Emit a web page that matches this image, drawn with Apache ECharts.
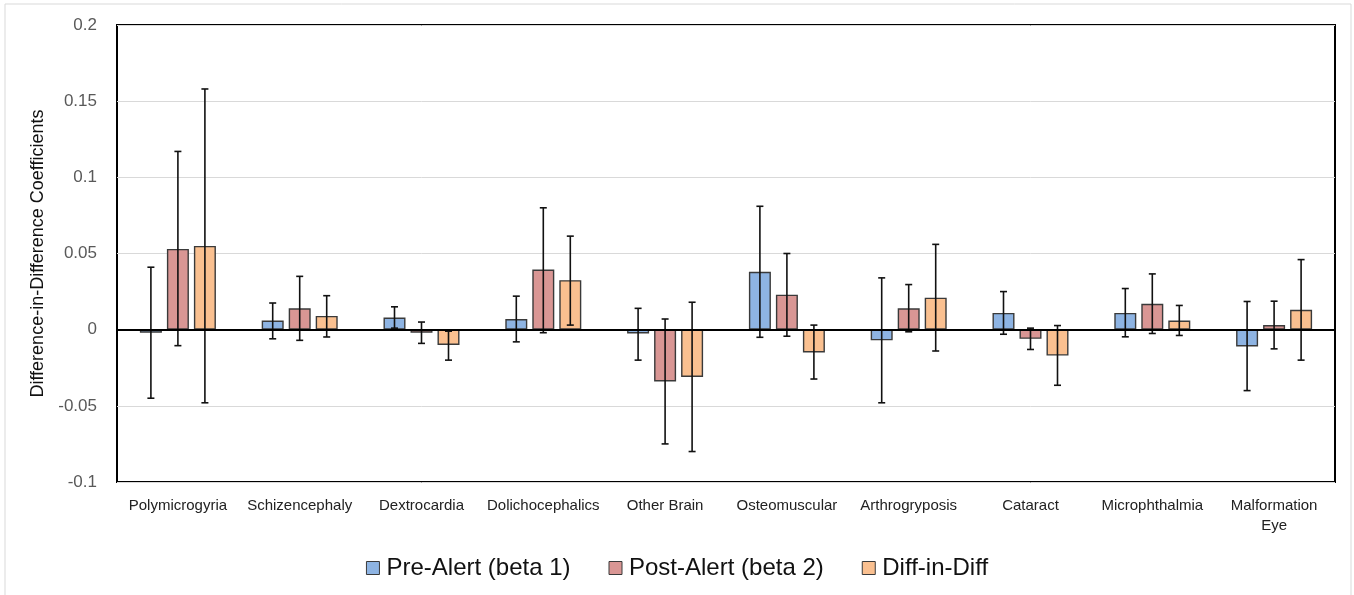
<!DOCTYPE html>
<html>
<head>
<meta charset="utf-8">
<script src="https://cdn.jsdelivr.net/npm/echarts@6/dist/echarts.min.js"></script>
<style>
html,body{margin:0;padding:0;background:#fff;}
#chart{width:1354px;height:595px;}
</style>
</head>
<body>
<div id="chart"></div>
<script>
const categories = ['Polymicrogyria','Schizencephaly','Dextrocardia','Dolichocephalics','Other Brain','Osteomuscular','Arthrogryposis','Cataract','Microphthalmia','Malformation Eye'];
const seriesNames = ['Pre-Alert (beta 1)','Post-Alert (beta 2)','Diff-in-Diff'];
const yTicks = [-0.1, 0.2, 0.05];

const pre     = [-0.002, 0.006, 0.008, 0.007, -0.0025, 0.038, -0.007, 0.011, 0.011, -0.011];
const preLow  = [-0.045, -0.006, 0.001, -0.008, -0.020, -0.005, -0.048, -0.003, -0.0047, -0.040];
const preHigh = [0.041, 0.0175, 0.015, 0.022, 0.014, 0.081, 0.034, 0.025, 0.027, 0.0185];

const post     = [0.053, 0.014, -0.002, 0.0395, -0.034, 0.023, 0.014, -0.006, 0.017, 0.003];
const postLow  = [-0.0105, -0.007, -0.009, -0.002, -0.075, -0.0043, -0.0014, -0.013, -0.0025, -0.0126];
const postHigh = [0.117, 0.035, 0.005, 0.080, 0.007, 0.050, 0.0296, 0.001, 0.0366, 0.0187];

const did     = [0.055, 0.009, -0.010, 0.0325, -0.031, -0.015, 0.021, -0.017, 0.006, 0.013];
const didLow  = [-0.048, -0.0048, -0.020, 0.003, -0.080, -0.0324, -0.014, -0.0365, -0.0038, -0.020];
const didHigh = [0.158, 0.0223, -0.001, 0.0614, 0.018, 0.003, 0.056, 0.0027, 0.0159, 0.046];

const colors = ['#8eb4e3', '#d99694', '#fac090'];
const FONT = '"Liberation Sans", Arial, sans-serif';
const BAR_W = 22, BAR_PITCH = 27;

function errData(low, high) {
  return categories.map((c, i) => [i, low[i], high[i]]);
}
function errSeries(idx, low, high) {
  const off = (idx - 1) * BAR_PITCH;
  return {
    type: 'custom',
    name: seriesNames[idx] + ' err',
    z: 5,
    silent: true,
    data: errData(low, high),
    encode: { x: 0, y: [1, 2] },
    renderItem: function (params, api) {
      const i = api.value(0);
      const lo = api.coord([i, api.value(1)]);
      const hi = api.coord([i, api.value(2)]);
      const x = lo[0] + off;
      const cap = 3.5;
      const st = { stroke: '#111', lineWidth: 1.6 };
      return {
        type: 'group',
        children: [
          { type: 'line', shape: { x1: x, y1: lo[1], x2: x, y2: hi[1] }, style: st },
          { type: 'line', shape: { x1: x - cap, y1: lo[1], x2: x + cap, y2: lo[1] }, style: st },
          { type: 'line', shape: { x1: x - cap, y1: hi[1], x2: x + cap, y2: hi[1] }, style: st }
        ]
      };
    }
  };
}
function barSeries(idx, vals) {
  const s = {
    type: 'bar',
    name: seriesNames[idx],
    data: vals,
    barWidth: BAR_W,
    barGap: ((BAR_PITCH - BAR_W) / BAR_W * 100) + '%',
    itemStyle: { color: colors[idx], borderColor: '#3a3a3a', borderWidth: 1.4 },
    z: 2
  };
  if (idx === 0) {
    s.markLine = {
      silent: true,
      symbol: 'none',
      label: { show: false },
      lineStyle: { color: '#000', width: 2, type: 'solid' },
      data: [{ yAxis: 0 }],
      z: 6
    };
  }
  return s;
}

const chart = echarts.init(document.getElementById('chart'), null, { renderer: 'canvas' });
chart.setOption({
  animation: false,
  backgroundColor: '#fff',
  graphic: [{
    type: 'rect',
    shape: { x: 5, y: 4, width: 1346, height: 600 },
    style: { fill: 'none', stroke: '#d9d9d9', lineWidth: 1 },
    silent: true,
    z: -1
  }],
  grid: {
    left: 117, right: 19, top: 25, bottom: 113,
    show: true, borderColor: '#000', borderWidth: 2, backgroundColor: 'transparent'
  },
  legend: {
    data: seriesNames,
    top: 551,
    left: 'center',
    icon: 'rect',
    itemWidth: 13,
    itemHeight: 13,
    itemGap: 38,
    textStyle: { fontFamily: FONT, fontSize: 24, color: '#111', padding: [0, 0, 0, 2] },
    itemStyle: { borderColor: '#3a3a3a', borderWidth: 1 }
  },
  xAxis: {
    type: 'category',
    data: categories,
    axisLine: { show: false },
    axisTick: { show: false },
    axisLabel: {
      fontFamily: FONT, fontSize: 15, color: '#222', margin: 14, interval: 0, lineHeight: 20,
      formatter: v => v === 'Malformation Eye' ? 'Malformation\nEye' : v
    },
    splitLine: { show: false }
  },
  yAxis: {
    type: 'value',
    min: yTicks[0], max: yTicks[1], interval: yTicks[2],
    name: 'Difference-in-Difference Coefficients',
    nameLocation: 'middle',
    nameGap: 67,
    nameRotate: 90,
    nameTextStyle: { fontFamily: FONT, fontSize: 18, color: '#111' },
    axisLine: { show: false },
    axisTick: { show: false },
    axisLabel: { fontFamily: FONT, fontSize: 17, color: '#595959', margin: 20 },
    splitLine: { lineStyle: { color: '#d9d9d9', width: 1 } }
  },
  series: [
    barSeries(0, pre), barSeries(1, post), barSeries(2, did),
    errSeries(0, preLow, preHigh), errSeries(1, postLow, postHigh), errSeries(2, didLow, didHigh)
  ]
});
</script>
</body>
</html>
